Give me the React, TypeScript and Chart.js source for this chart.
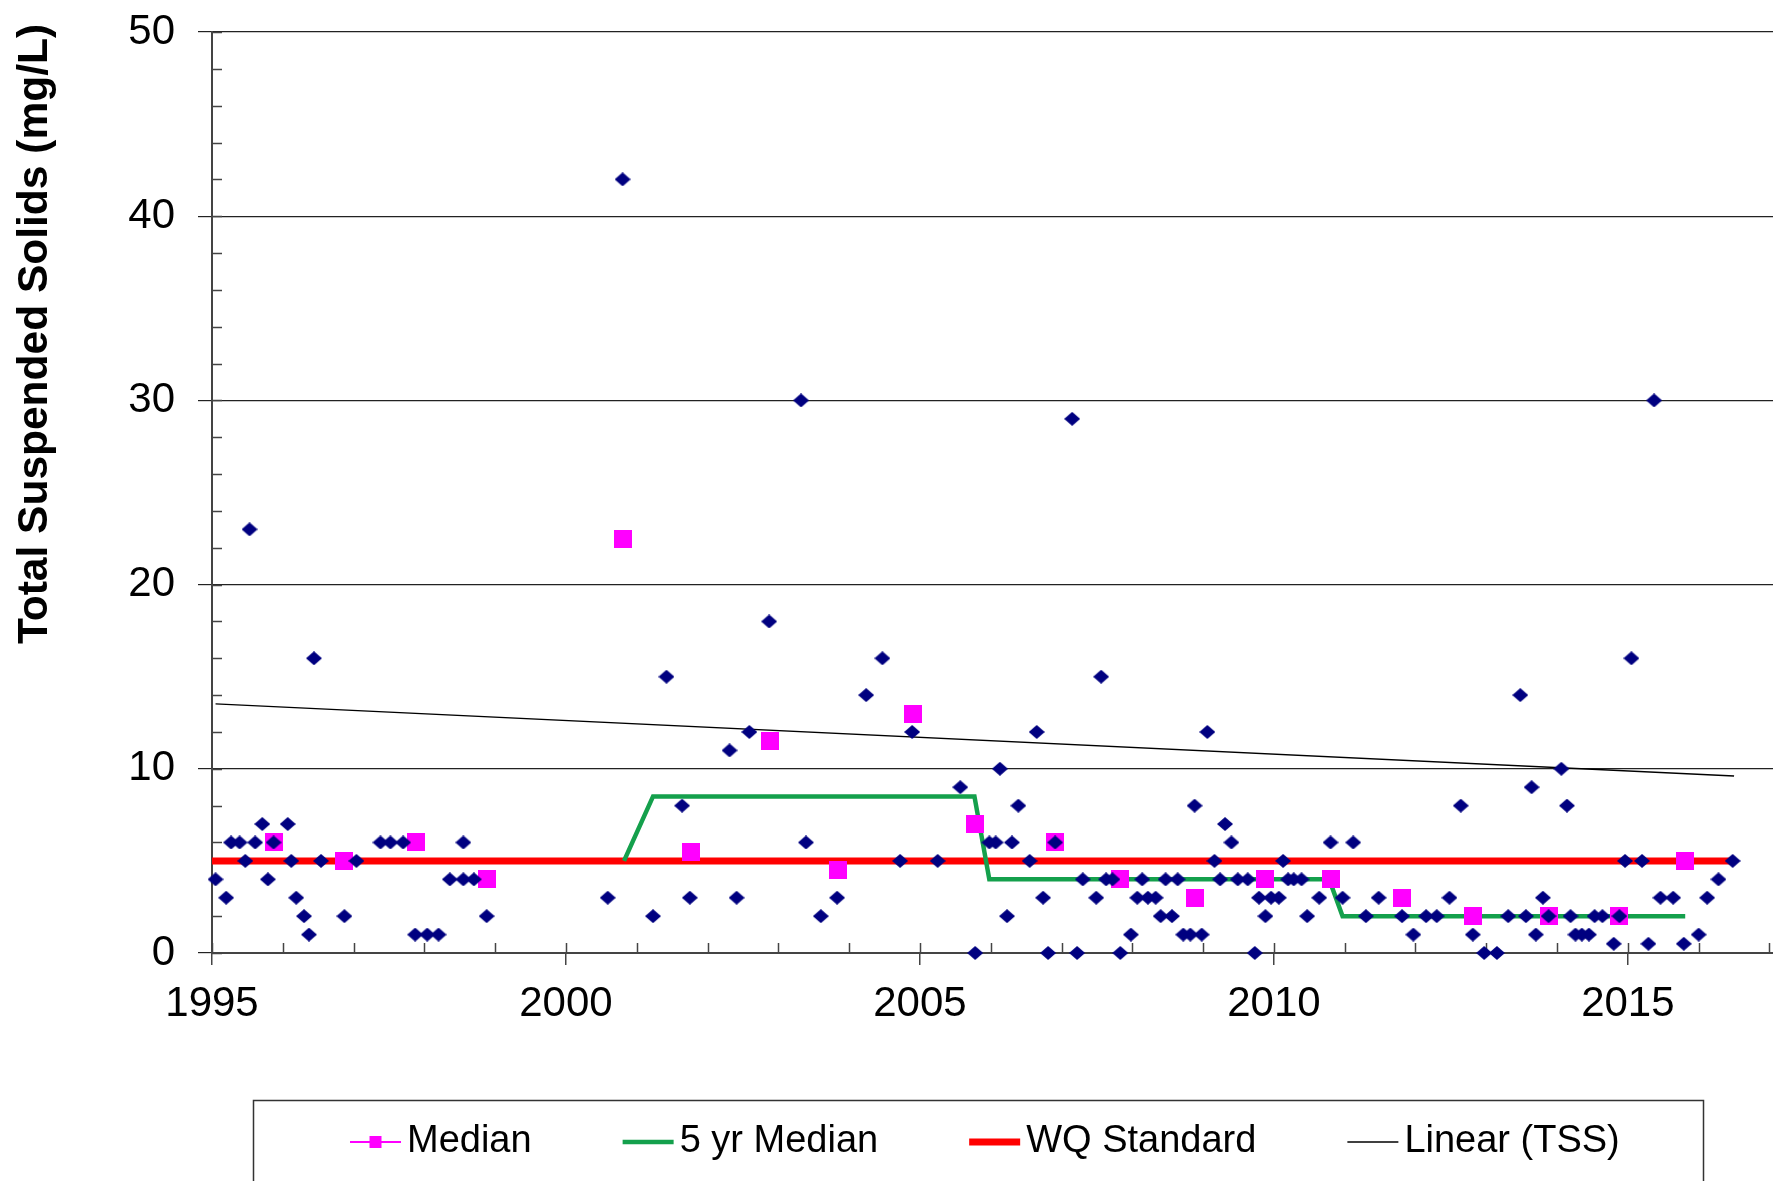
import React, { useEffect, useRef } from 'react';
import { Chart, registerables } from 'chart.js';

Chart.register(...registerables);

// ---------- data ----------
const tssYears = [
  1995.05, 1995.2, 1995.27, 1995.39, 1995.47, 1995.53, 1995.61, 1995.71, 1995.79, 1995.87,
  1996.07, 1996.12, 1996.19, 1996.3, 1996.37, 1996.44, 1996.54, 1996.87,
  1997.04, 1997.38, 1997.52, 1997.7, 1997.87,
  1998.04, 1998.2, 1998.36, 1998.55, 1998.55, 1998.7, 1998.88,
  2000.59, 2000.8, 2001.23, 2001.42, 2001.64, 2001.75,
  2002.31, 2002.41, 2002.59, 2002.87, 2003.32, 2003.39, 2003.6, 2003.83,
  2004.24, 2004.47, 2004.72, 2004.89, 2005.25, 2005.57, 2005.78, 2005.98,
  2006.07, 2006.13, 2006.23, 2006.3, 2006.39, 2006.55, 2006.65, 2006.74, 2006.81, 2006.91,
  2007.15, 2007.22, 2007.3, 2007.49, 2007.56, 2007.63, 2007.72, 2007.83, 2007.98,
  2008.07, 2008.14, 2008.22, 2008.33, 2008.4, 2008.47, 2008.56, 2008.64, 2008.72, 2008.82, 2008.88, 2008.98,
  2009.06, 2009.16, 2009.24, 2009.31, 2009.4, 2009.49, 2009.63, 2009.73, 2009.79, 2009.88, 2009.96,
  2010.07, 2010.13, 2010.2, 2010.28, 2010.39, 2010.47, 2010.64, 2010.8, 2010.97,
  2011.12, 2011.3, 2011.48, 2011.81, 2011.97,
  2012.15, 2012.3, 2012.48, 2012.64, 2012.81, 2012.97,
  2013.15, 2013.31, 2013.48, 2013.56, 2013.64, 2013.7, 2013.8, 2013.88,
  2014.06, 2014.14, 2014.19, 2014.26, 2014.35, 2014.45, 2014.53, 2014.64, 2014.8, 2014.88, 2014.96,
  2015.05, 2015.2, 2015.29, 2015.37, 2015.46, 2015.64, 2015.79,
  2016.0, 2016.12, 2016.28, 2016.48,
];
const tssValues = [
  4, 3, 6, 6, 5, 23, 6, 7, 4, 6,
  7, 5, 3, 2, 1, 16, 5, 2,
  5, 6, 6, 6, 1,
  1, 1, 4, 6, 4, 4, 2,
  3, 42, 2, 15, 8, 3,
  11, 3, 12, 18, 30, 6, 2, 3,
  14, 16, 5, 12, 5, 9, 0, 6,
  6, 10, 2, 6, 8, 5, 12, 3, 0, 6,
  29, 0, 4, 3, 15, 4, 4, 0, 1,
  3, 4, 3, 3, 2, 4, 2, 4, 1, 1, 8, 1,
  12, 5, 4, 7, 6, 4, 4, 0, 3, 2, 3,
  3, 5, 4, 4, 4, 2, 3, 6, 3,
  6, 2, 3, 2, 1,
  2, 2, 3, 8, 1, 0,
  0, 2, 14, 2, 9, 1, 3, 2,
  10, 8, 2, 1, 1, 1, 2, 2, 0.5, 2, 5,
  16, 5, 0.5, 30, 3, 3, 0.5,
  1, 3, 4, 5,
];

const medianYears = [
  1995.87, 1996.87, 1997.88, 1998.89, 2000.8, 2001.76, 2002.88, 2003.84, 2004.9, 2005.78,
  2006.91, 2007.83, 2008.89, 2009.88, 2010.81, 2011.81, 2012.81, 2013.88, 2014.88, 2015.8,
];
const medianValues = [6, 5, 6, 4, 22.5, 5.5, 11.5, 4.5, 13, 7, 6, 4, 3, 4, 4, 3, 2, 2, 2, 5];

const fiveYrYears = [2000.82, 2001.23, 2005.77, 2005.98, 2010.78, 2010.97, 2015.81];
const fiveYrValues = [5, 8.5, 8.5, 4, 4, 2, 2];

const wqYears = [1995, 2016.48];
const wqValues = [5, 5];

const trendYears = [1995.05, 2016.5];
const trendValues = [13.52, 9.61];

const xTickLabels = [1995, 2000, 2005, 2010, 2015];
const yTickLabels = [0, 10, 20, 30, 40, 50];
const xMinorStep = 1;
const yMinorStep = 2;

const seriesNames = ['TSS', 'Median', '5 yr Median', 'WQ Standard', 'Linear (TSS)'];
const yTitle = 'Total Suspended Solids (mg/L)';

// ---------- styles ----------
const FONT = "'Liberation Sans', Arial, Helvetica, sans-serif";
const NAVY = '#000080';
const MAGENTA = '#FF00FF';
const GREEN = '#14A04C';
const RED = '#FF0000';

const zip = (xs: number[], ys: number[]) => xs.map((x, i) => ({ x, y: ys[i] }));

export default function App() {
  const ref = useRef<HTMLCanvasElement | null>(null);

  useEffect(() => {
    const canvas = ref.current;
    if (!canvas) return;

    const DW = 16;
    const DH = 14;
    const diamond = document.createElement('canvas');
    diamond.width = DW;
    diamond.height = DH;
    const dctx = diamond.getContext('2d')!;
    dctx.fillStyle = NAVY;
    dctx.beginPath();
    dctx.moveTo(DW / 2, 0);
    dctx.lineTo(DW, DH / 2);
    dctx.lineTo(DW / 2, DH);
    dctx.lineTo(0, DH / 2);
    dctx.closePath();
    dctx.fill();

    const square = document.createElement('canvas');
    square.width = 18;
    square.height = 18;
    const sctx = square.getContext('2d')!;
    sctx.fillStyle = MAGENTA;
    sctx.fillRect(0, 0, 18, 18);

    const minorTicks = {
      id: 'minorTicks',
      beforeDatasetsDraw(chart: any) {
        const { ctx, chartArea, scales } = chart;
        const xs = scales.x;
        const ys = scales.y;
        ctx.save();
        ctx.strokeStyle = '#444';
        ctx.lineWidth = 1.5;
        ctx.beginPath();
        for (let v = ys.min; v <= ys.max + 1e-9; v += yMinorStep) {
          const py = Math.round(ys.getPixelForValue(v)) + 0.5;
          ctx.moveTo(chartArea.left, py);
          ctx.lineTo(chartArea.left + 10, py);
        }
        for (let yr = xTickLabels[0]; yr <= xs.max + 1e-9; yr += xMinorStep) {
          const px = Math.round(xs.getPixelForValue(yr)) + 0.5;
          ctx.moveTo(px, chartArea.bottom);
          ctx.lineTo(px, chartArea.bottom - 10);
        }
        ctx.stroke();
        ctx.restore();
      },
    };

    const yAxisTitle = {
      id: 'yAxisTitle',
      afterDraw(chart: any) {
        const { ctx } = chart;
        ctx.save();
        ctx.translate(35, 334);
        ctx.rotate(-Math.PI / 2);
        ctx.font = `bold 42.5px ${FONT}`;
        ctx.fillStyle = '#000';
        ctx.textAlign = 'center';
        ctx.textBaseline = 'middle';
        ctx.fillText(yTitle, 0, 0);
        ctx.restore();
      },
    };

    const boxLegend = {
      id: 'boxLegend',
      afterDraw(chart: any) {
        const { ctx } = chart;
        ctx.save();
        ctx.fillStyle = '#fff';
        ctx.fillRect(253, 1100, 1450, 100);
        ctx.strokeStyle = '#333';
        ctx.lineWidth = 1.5;
        ctx.strokeRect(253.5, 1100.5, 1450, 100);
        ctx.font = `38px ${FONT}`;
        ctx.textBaseline = 'middle';
        ctx.textAlign = 'left';
        const y = 1142;
        let x = 350;
        const dsets = chart.data.datasets;
        for (let i = 1; i < dsets.length; i++) {
          const ds = dsets[i];
          if (i === 1) {
            ctx.strokeStyle = MAGENTA;
            ctx.lineWidth = 2;
            ctx.beginPath();
            ctx.moveTo(x, y);
            ctx.lineTo(x + 51, y);
            ctx.stroke();
            ctx.fillStyle = MAGENTA;
            ctx.fillRect(x + 25.5 - 6, y - 6, 12, 12);
          } else {
            ctx.strokeStyle = ds.borderColor;
            ctx.lineWidth = ds.borderWidth;
            ctx.beginPath();
            ctx.moveTo(x, y);
            ctx.lineTo(x + 51, y);
            ctx.stroke();
          }
          ctx.fillStyle = '#000';
          ctx.fillText(ds.label, x + 57, y);
          x += 57 + ctx.measureText(ds.label).width + 91;
        }
        ctx.restore();
      },
    };

    const chart = new Chart(canvas, {
      type: 'scatter',
      data: {
        datasets: [
          {
            label: seriesNames[0],
            data: zip(tssYears, tssValues),
            pointStyle: diamond as any,
            pointRadius: 8,
            showLine: false,
            clip: false as any,
          },
          {
            label: seriesNames[1],
            data: zip(medianYears, medianValues),
            pointStyle: square as any,
            pointRadius: 9,
            showLine: false,
            borderColor: MAGENTA,
            backgroundColor: MAGENTA,
            clip: false as any,
          },
          {
            label: seriesNames[2],
            data: zip(fiveYrYears, fiveYrValues),
            showLine: true,
            borderColor: GREEN,
            backgroundColor: GREEN,
            borderWidth: 4.5,
            pointRadius: 0,
            tension: 0,
            clip: false as any,
          },
          {
            label: seriesNames[3],
            data: zip(wqYears, wqValues),
            showLine: true,
            borderColor: RED,
            backgroundColor: RED,
            borderWidth: 7,
            pointRadius: 0,
            clip: false as any,
          },
          {
            label: seriesNames[4],
            data: zip(trendYears, trendValues),
            showLine: true,
            borderColor: '#000',
            backgroundColor: '#000',
            borderWidth: 1.3,
            pointRadius: 0,
            clip: false as any,
          },
        ],
      },
      options: {
        responsive: false,
        animation: false,
        devicePixelRatio: 1,
        layout: { padding: { top: 32, left: 0, right: 0, bottom: 0 }, autoPadding: false } as any,
        plugins: {
          legend: { display: false },
          tooltip: { enabled: false },
        },
        scales: {
          x: {
            type: 'linear',
            min: xTickLabels[0],
            max: 2017.05,
            afterBuildTicks: (scale: any) => {
              scale.ticks = xTickLabels.map((v) => ({ value: v }));
            },
            afterFit: (scale: any) => {
              scale.height = 228;
              scale.paddingLeft = 0;
              scale.paddingRight = 0;
            },
            ticks: {
              color: '#000',
              font: { family: FONT, size: 42 },
              padding: 14,
              maxRotation: 0,
              autoSkip: false,
              callback: (v: any) => String(v),
            },
            grid: {
              drawOnChartArea: false,
              drawTicks: true,
              tickLength: 12,
              color: '#444',
              lineWidth: 1.5,
            },
            border: { color: '#444', width: 2 },
          },
          y: {
            type: 'linear',
            min: yTickLabels[0],
            max: yTickLabels[yTickLabels.length - 1],
            afterBuildTicks: (scale: any) => {
              scale.ticks = yTickLabels.map((v) => ({ value: v }));
            },
            afterFit: (scale: any) => {
              scale.width = 212;
              scale.paddingTop = 0;
              scale.paddingBottom = 0;
            },
            ticks: {
              color: '#000',
              font: { family: FONT, size: 42 },
              padding: 23,
              callback: (v: any) => String(v),
            },
            grid: {
              color: '#222',
              lineWidth: 1.2,
              drawTicks: true,
              tickLength: 14,
            },
            border: { color: '#444', width: 2 },
            title: { display: false, text: yTitle },
          },
        },
      },
      plugins: [minorTicks, yAxisTitle, boxLegend],
    });

    return () => chart.destroy();
  }, []);

  return (
    <div style={{ position: 'absolute', left: 0, top: 0, width: 1773, height: 1181, background: '#fff' }}>
      <canvas ref={ref} width={1773} height={1181} style={{ display: 'block', width: 1773, height: 1181 }} />
    </div>
  );
}
